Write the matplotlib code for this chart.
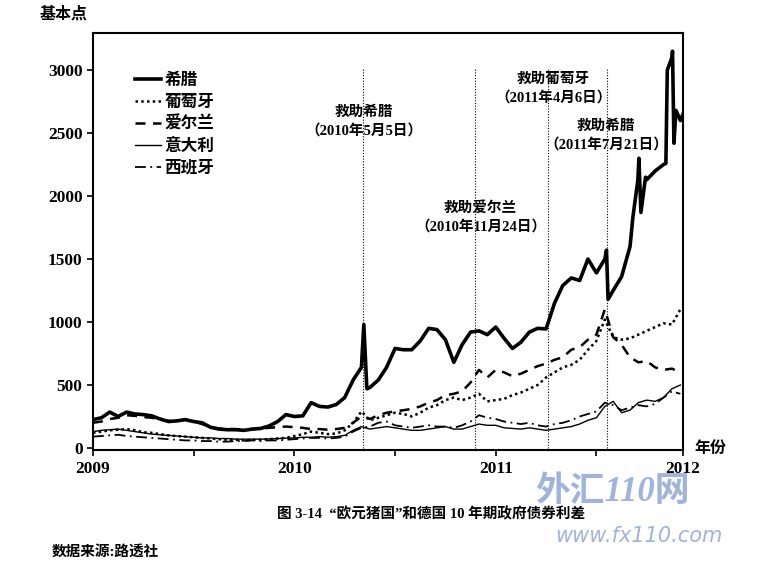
import numpy as np
import matplotlib
matplotlib.use("Agg")
import matplotlib.pyplot as plt
from matplotlib.lines import Line2D

CJK = ["Liberation Serif", "Noto Sans CJK SC", "DejaVu Sans"]
plt.rcParams["font.family"] = CJK

# Greece: own time grid (decimal years) so the spikes are kept
greece_t = [2009.000, 2009.042, 2009.083, 2009.125, 2009.167, 2009.208, 2009.250, 2009.292,
            2009.333, 2009.375, 2009.417, 2009.458, 2009.500, 2009.542, 2009.583, 2009.625,
            2009.667, 2009.708, 2009.750, 2009.792, 2009.833, 2009.875, 2009.917, 2009.958,
            2010.000, 2010.042, 2010.083, 2010.125, 2010.167, 2010.208, 2010.250, 2010.292,
            2010.333, 2010.345, 2010.360, 2010.375, 2010.417, 2010.458, 2010.500, 2010.542,
            2010.583, 2010.625, 2010.667, 2010.708, 2010.750, 2010.792, 2010.833, 2010.875,
            2010.917, 2010.958, 2011.000, 2011.042, 2011.083, 2011.125, 2011.167, 2011.208,
            2011.250, 2011.292, 2011.333, 2011.375, 2011.417, 2011.458, 2011.500, 2011.542,
            2011.550, 2011.558, 2011.583, 2011.625, 2011.667, 2011.681, 2011.706, 2011.711,
            2011.721, 2011.744, 2011.750, 2011.792, 2011.833, 2011.845, 2011.852, 2011.875,
            2011.878, 2011.885, 2011.895, 2011.917, 2011.930]
greece = [225, 240, 285, 250, 285, 270, 265, 255,
          230, 210, 215, 225, 210, 200, 165, 150,
          145, 145, 140, 150, 155, 175, 210, 265,
          250, 255, 360, 330, 325, 345, 400, 540,
          640, 980, 470, 480, 540, 640, 790, 780,
          780, 850, 950, 940, 860, 680, 820, 920,
          930, 900, 960, 870, 790, 840, 920, 950,
          945, 1150, 1290, 1350, 1330, 1500, 1390, 1500,
          1570, 1180, 1250, 1360, 1600, 1830, 2130, 2300,
          1870, 2150, 2130, 2200, 2250, 2260, 3000, 3100,
          3150, 2420, 2680, 2600, 2650]

# other countries: semi-monthly, Jan 2009 .. Dec 2011
t = 2009 + np.arange(71) / 24
portugal = [120, 130, 140, 145, 150, 140, 125, 120, 110, 100, 95, 90, 85, 80, 75, 70,
            65, 65, 60, 65, 65, 70, 75, 80,
            95, 110, 130, 120, 110, 115, 140, 200, 290, 220, 240, 260, 280, 270, 250, 280,
            320, 340, 380, 400, 380, 400, 430, 370,
            380, 390, 420, 440, 470, 500, 560, 600, 640, 660, 700, 780, 850, 1020, 880, 860,
            870, 900, 930, 960, 990, 980, 1100]
ireland = [200, 210, 230, 240, 260, 255, 245, 240, 225, 215, 215, 225, 210, 190, 165, 155,
           150, 150, 145, 150, 155, 160, 165, 170,
           165, 160, 150, 150, 145, 150, 160, 200, 250, 230, 260, 280, 290, 300, 310, 330,
           360, 380, 420, 430, 450, 520, 620, 560,
           620, 600, 570, 590, 620, 650, 670, 700, 720, 780, 800, 860, 900, 1100, 880, 820,
           720, 680, 690, 640, 620, 630, 600]
italy = [130, 140, 145, 150, 140, 130, 120, 110, 105, 100, 95, 90, 85, 80, 80, 75,
         75, 70, 70, 70, 70, 72, 75, 78,
         80, 85, 85, 90, 85, 90, 100, 140, 170, 150, 160, 170, 160, 150, 140, 140,
         150, 160, 170, 150, 150, 170, 190, 180,
         180, 160, 155, 150, 160, 150, 140, 150, 160, 170, 190, 220, 240, 330, 370, 280,
         300, 360, 380, 370, 400, 470, 500]
spain = [90, 95, 100, 105, 95, 90, 85, 80, 75, 70, 65, 60, 60, 55, 55, 50,
         50, 55, 55, 60, 55, 60, 60, 65,
         70, 75, 80, 80, 75, 80, 90, 130, 160, 170, 200, 210, 180, 170, 160, 170,
         180, 170, 170, 160, 180, 210, 260, 240,
         230, 210, 200, 190, 200, 180, 170, 190, 200, 220, 250, 270, 290, 360, 340, 300,
         320, 340, 330, 350, 400, 450, 430]

events = [2010.340, 2010.896, 2011.260, 2011.551]
event_labels = ["救助希腊\n（2010年5月5日）", "救助爱尔兰\n（2010年11月24日）",
                "救助葡萄牙\n（2011年4月6日）", "救助希腊\n（2011年7月21日）"]
event_text_xy = [(2010.345, 2590), (2010.925, 1835), (2011.285, 2855), (2011.548, 2480)]

year_ticks = [2009, 2010, 2011, 2011.93]
year_labels = ["2009", "2010", "2011", "2012"]

fig = plt.figure(figsize=(7.61, 5.86), dpi=100)
ax = fig.add_axes([0.1222, 0.2321, 0.7753, 0.7116])

ax.plot(greece_t, greece, color="black", lw=2.6, solid_joinstyle="round")
ax.plot(t, portugal, color="black", lw=1.8, ls=(0, (1, 1.3)))
ax.plot(t, ireland, color="black", lw=1.8, ls=(0, (4, 3)))
ax.plot(t, italy, color="black", lw=1.0)
ax.plot(t, spain, color="black", lw=1.3, ls=(0, (6, 2.5, 1, 2.5)))

ax.vlines(events, 0, 3020, colors="black", lw=0.8, linestyles=(0, (1, 1.5)))
for (tx, ty), lab in zip(event_text_xy, event_labels):
    ax.text(tx, ty, lab, ha="center", va="center", fontsize=10.5, fontweight="bold",
            linespacing=1.45, family=CJK)

ax.set_xlim(2009, 2011.93)
ax.set_ylim(-16, 3295)
ax.set_yticks([0, 500, 1000, 1500, 2000, 2500, 3000])
ax.set_xticks(year_ticks)
ax.set_xticklabels(year_labels)
ax.set_xticks([2009.5, 2010.5, 2011.5], minor=True)
ax.tick_params(axis="y", direction="out", length=4, width=1.2, labelsize=12.5)
ax.tick_params(axis="x", which="both", direction="out", length=4, width=1.2,
               labelsize=12.5, pad=4)
for lab in ax.get_xticklabels() + ax.get_yticklabels():
    lab.set_fontweight("bold")
for sp in ax.spines.values():
    sp.set_linewidth(1.5)

handles = [Line2D([], [], color="black", lw=2.6),
           Line2D([], [], color="black", lw=1.8, ls=(0, (1, 1.3))),
           Line2D([], [], color="black", lw=1.8, ls=(0, (4, 3))),
           Line2D([], [], color="black", lw=1.0),
           Line2D([], [], color="black", lw=1.3, ls=(0, (6, 2.5, 1, 2.5)))]
names = ["希腊", "葡萄牙", "爱尔兰", "意大利", "西班牙"]
leg = ax.legend(handles, names, loc="upper left", bbox_to_anchor=(0.045, 0.94),
                frameon=False, handlelength=1.6, handletextpad=0.2, labelspacing=0.35,
                prop={"family": CJK, "size": 12, "weight": "bold"})

fig.text(0.052, 0.968, "基本点", fontsize=11.5, fontweight="bold", family=CJK)
fig.text(0.912, 0.234, "年份", fontsize=11.5, fontweight="bold", family=CJK, va="center")
fig.text(0.566, 0.116, "图 3-14  “欧元猪国”和德国 10 年期政府债券利差", ha="center",
         fontsize=10.5, fontweight="bold", family=CJK)
fig.text(0.068, 0.052, "数据来源:路透社", fontsize=10.5, fontweight="bold", family=CJK)

# watermark
fig.text(0.805, 0.145, "外汇110网", ha="center", fontsize=25, fontweight="bold",
         style="italic", color="#8ea6d8", alpha=0.85, family=CJK)
fig.text(0.84, 0.075, "www.fx110.com", ha="center", fontsize=15, style="italic",
         color="#8ea6d8", alpha=0.85, family=["DejaVu Sans"])

fig.savefig("out.png", dpi=100)
